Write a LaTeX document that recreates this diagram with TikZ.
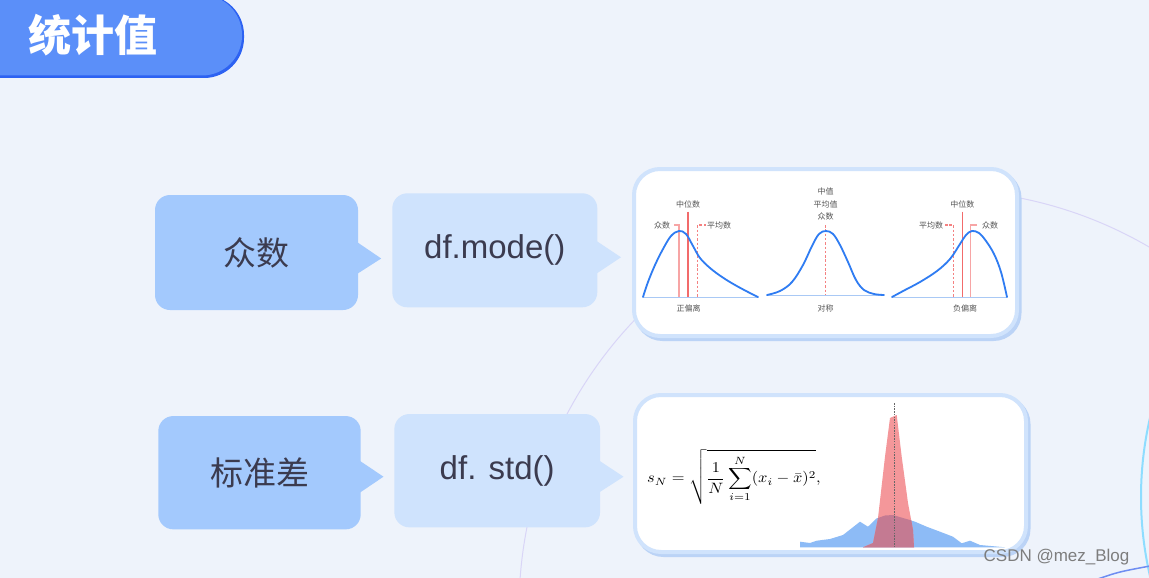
\documentclass[tikz,border=0pt]{standalone}
\usepackage{graphicx}
\usepackage{fontspec}
\newfontfamily\cjk{Noto Sans CJK SC}
\newfontfamily\lsans{Liberation Sans}
\usetikzlibrary{calc,shadows}
\definecolor{bg}{HTML}{EEF3FB}
\definecolor{titleblue}{HTML}{5B8FF9}
\definecolor{titleshadow}{HTML}{2D62F2}
\definecolor{nodeA}{HTML}{A3C9FD}
\definecolor{nodeB}{HTML}{CFE3FD}
\definecolor{txt}{HTML}{3B3B4F}
\definecolor{imgborder}{HTML}{D0E3FC}
\definecolor{imgshadow}{HTML}{BBD3F6}
\definecolor{arcline}{HTML}{D9D5F7}
\definecolor{cyanline}{HTML}{8EDDFF}
\definecolor{blueline}{HTML}{6E8DF2}
\definecolor{curveblue}{HTML}{2F7CF2}
\definecolor{baseblue}{HTML}{A9C9F5}
\definecolor{redmain}{HTML}{F26B6B}
\definecolor{redlight}{HTML}{F7A5A5}
\definecolor{histblue}{HTML}{8DBBF6}
\definecolor{histred}{HTML}{F4979A}
\definecolor{histmix}{HTML}{C47A92}
\definecolor{lblgray}{HTML}{555555}
\definecolor{wmgray}{HTML}{7D7D7D}
\begin{document}
\begin{tikzpicture}[x=1pt,y=-1pt,
  boxA/.style={fill=nodeA, rounded corners=15, inner sep=0, text=txt, font=\cjk\fontsize{33}{40}\selectfont},
  boxB/.style={fill=nodeB, rounded corners=15, inner sep=0, text=txt, font=\lsans\fontsize{33}{40}\selectfont},
  imgbox/.style={fill=white, draw=imgborder, line width=4, rounded corners=26, inner sep=0,
    drop shadow={shadow xshift=2.5pt, shadow yshift=-3pt, fill=imgshadow, draw=imgshadow, line width=4, opacity=1}},
  lbl/.style={inner sep=0, text=lblgray, font=\cjk\fontsize{8}{9.6}\selectfont},
  curve/.style={curveblue, line width=1.8, line join=round, line cap=round},
  baseln/.style={baseblue, line width=1},
  medline/.style={redmain, line width=1.1},
  modeline/.style={redlight, line width=1.1},
  meanline/.style={redmain!85, line width=1.1, dash pattern=on 2.5pt off 1.8pt},
]
\useasboundingbox (0,0) rectangle (1149,578);
\clip (0,0) rectangle (1149,578);
\fill[bg] (0,0) rectangle (1149,578);

% background arcs
\draw[arcline, line width=1] (938,609) circle (419);
\draw[cyanline, line width=2] (1491,497) circle (350);
\draw[blueline, line width=1.5] (1095,580) .. controls (1118,572) .. (1150,566);

% title
\fill[titleshadow, rounded corners=40] (-40,-5) rectangle (244,78);
\fill[titleblue, rounded corners=40] (-40,-5) rectangle (242,75.5);
\node[inner sep=0, text=white, font=\cjk\bfseries\fontsize{43}{50}\selectfont] (title) at (92.5,35) {统计值};

% row 1
\node[boxA, minimum width=203, minimum height=115] (zs) at (256.5,252.5) {众数};
\fill[nodeA] ($(zs.east)+(-2,-11)$) -- ($(zs.east)+(23,6)$) -- ($(zs.east)+(-2,22)$) -- cycle;
\node[boxB, minimum width=205, minimum height=114] (dfm) at (494.8,250.3) {df.mode()};
\fill[nodeB] ($(dfm.east)+(-2,-10)$) -- ($(dfm.east)+(23.5,7)$) -- ($(dfm.east)+(-2,24)$) -- cycle;
\node[imgbox, minimum width=383, minimum height=167] (img1) at (825.5,252.5) {};

% row 2
\node[boxA, minimum width=202.4, minimum height=113.3] (bzc) at (259.5,472.7) {标准差};
\fill[nodeA] ($(bzc.east)+(-2,-12.5)$) -- ($(bzc.east)+(22.6,4)$) -- ($(bzc.east)+(-2,20.6)$) -- cycle;
\node[boxB, minimum width=205.7, minimum height=113.3] (dfs) at (497.2,470.7) {df. std()};
\fill[nodeB] ($(dfs.east)+(-2,-10.7)$) -- ($(dfs.east)+(23.3,6)$) -- ($(dfs.east)+(-2,22.3)$) -- cycle;
\node[imgbox, minimum width=391, minimum height=157] (img2) at (830.5,473.5) {};

% ---- image 1 contents ----
% left: positive skew
\draw[baseln] (643,297) -- (758,297);
\draw[modeline] (674,225) -- (679,225) -- (679,297);
\draw[medline] (688,211.7) -- (688,297);
\draw[meanline] (706,225) -- (697.7,225) -- (697.7,297);
\draw[curve] plot[smooth, tension=0.6] coordinates {(643,297) (648,282) (655,265) (663,249) (671,236) (679,231) (686,234) (693,246) (700,258) (710,268) (722,277) (735,285) (748,292) (758,297)};
\node[lbl] (l1med) at (688,204) {中位数};
\node[lbl] (l1mode) at (662,225) {众数};
\node[lbl] (l1mean) at (719,225) {平均数};
\node[lbl] (l1name) at (688.7,308.3) {正偏离};
% middle: symmetric
\draw[baseln] (767,295) -- (884,295);
\draw[meanline] (825.7,225) -- (825.7,295);
\draw[curve] plot[smooth, tension=0.6] coordinates {(767,295) (780,291) (792,282) (803,265) (812,246) (819,234) (826,231) (833,234) (840,245) (848,262) (856,280) (864,290) (874,294) (884,295)};
\node[lbl] (l2a) at (825.7,191.7) {中值};
\node[lbl] (l2b) at (825.7,204.3) {平均值};
\node[lbl] (l2c) at (825.7,216.7) {众数};
\node[lbl] (l2name) at (825.7,308) {对称};
% right: negative skew
\draw[baseln] (892,297) -- (1007,297);
\draw[meanline] (945,225) -- (953.3,225) -- (953.3,297);
\draw[medline] (962.3,211.7) -- (962.3,297);
\draw[modeline] (977,225) -- (970.7,225) -- (970.7,297);
\draw[curve] plot[smooth, tension=0.6] coordinates {(892,297) (905,290) (920,282) (937,271) (950,259) (960,244) (966,235) (972,231) (979,233) (986,241) (994,254) (1001,272) (1007,297)};
\node[lbl] (l3med) at (962.3,204) {中位数};
\node[lbl] (l3mean) at (931,225) {平均数};
\node[lbl] (l3mode) at (990,225) {众数};
\node[lbl] (l3name) at (965,308.3) {负偏离};

% ---- image 2 contents ----
\node[anchor=west, inner sep=0] (fml) at (647,477) {\scalebox{1.64}[1.5]{$\displaystyle s_N=\sqrt{\frac{1}{N}\sum_{i=1}^{N}(x_i-\bar{x})^2},$}};
\fill[histblue] (800,547.3) -- (800,541.7) -- (810,543) -- (816.7,540.7) -- (830,539) -- (843,535) -- (860,521.7) -- (868,526.7) -- (876.7,518.3) -- (885,515.5) -- (893,515) -- (903,518) -- (915,521.7) -- (926.7,526.7) -- (940,531.7) -- (953,536.7) -- (961.7,543.3) -- (970,540.7) -- (980,545) -- (1005,547.3) -- cycle;
\fill[histred] (863,547.3) -- (873,543) -- (878,518) -- (885,456.7) -- (890,418) -- (896.7,415) -- (901.7,456.7) -- (908,503) -- (913,530) -- (914,547.3) -- cycle;
\fill[histmix] (863,547.3) -- (873,543) -- (878,518) -- (885,515.5) -- (893,515) -- (903,518) -- (911.3,520.4) -- (913,530) -- (914,547.3) -- cycle;
\draw[gray!80!black, line width=0.6, dash pattern=on 1.5pt off 1.2pt] (894,403) -- (894,547.3);

% watermark
\node[inner sep=0, text=wmgray, font=\lsans\fontsize{17}{20}\selectfont] (wm) at (1056.5,557.5) {CSDN @mez\_Blog};
\end{tikzpicture}
\end{document}
